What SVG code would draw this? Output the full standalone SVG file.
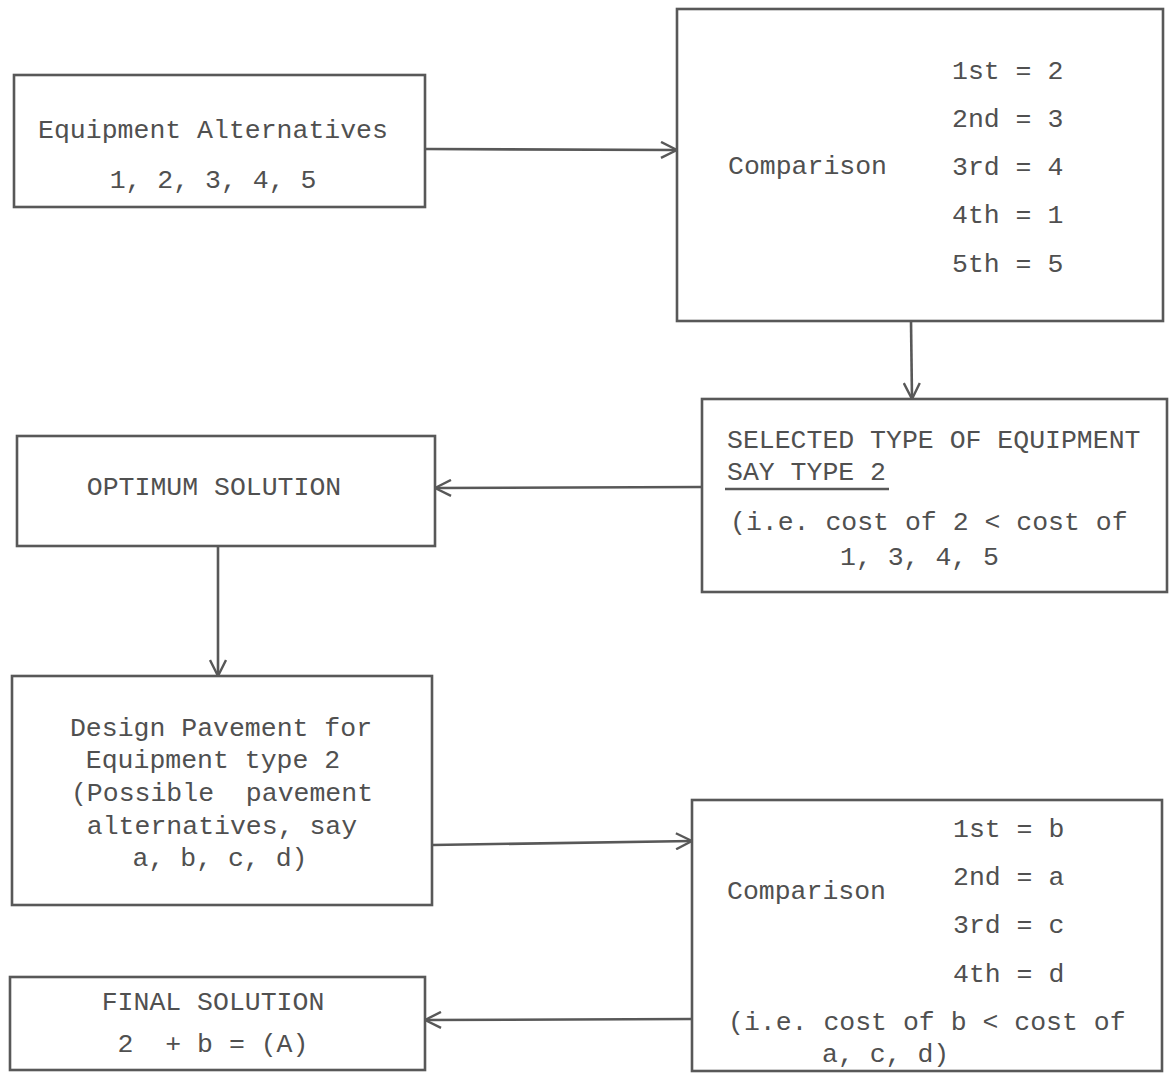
<svg xmlns="http://www.w3.org/2000/svg" width="1169" height="1073" viewBox="0 0 1169 1073">
<defs>
<marker id="arr" viewBox="0 0 18 18" refX="17" refY="9" markerWidth="18" markerHeight="18" markerUnits="userSpaceOnUse" orient="auto">
<path d="M1,1 L17,9 L1,17" fill="none" stroke="#585858" stroke-width="2.4"/>
</marker>
<style>
rect{fill:none;stroke:#585858;stroke-width:2.6}
text{font-family:"Liberation Mono","DejaVu Sans Mono",monospace;font-size:26.5px;fill:#505050;white-space:pre}
.c{text-anchor:middle}
#connectors path{fill:none;stroke:#585858;stroke-width:2.6;marker-end:url(#arr)}
</style>
</defs>
<rect x="0" y="0" width="1169" height="1073" style="fill:#fff;stroke:none"/>
<g id="equipment-alternatives">
<rect x="14" y="75" width="411" height="132"/>
<text class="c" x="213" y="138">Equipment Alternatives</text>
<text class="c" x="213" y="188">1, 2, 3, 4, 5</text>
</g>
<g id="comparison-1">
<rect x="677" y="9" width="486" height="312"/>
<text x="728" y="174">Comparison</text>
<text x="952" y="79">1st = 2</text>
<text x="952" y="127">2nd = 3</text>
<text x="952" y="175">3rd = 4</text>
<text x="952" y="223">4th = 1</text>
<text x="952" y="272">5th = 5</text>
</g>
<g id="selected-type">
<rect x="702" y="399" width="465" height="193"/>
<text x="727" y="448">SELECTED TYPE OF EQUIPMENT</text>
<text x="727" y="480">SAY TYPE 2</text>
<line x1="725" y1="489" x2="889" y2="489" stroke="#585858" stroke-width="2.4"/>
<text x="730" y="530">(i.e. cost of 2 &lt; cost of</text>
<text x="840" y="565">1, 3, 4, 5</text>
</g>
<g id="optimum-solution">
<rect x="17" y="436" width="418" height="110"/>
<text class="c" x="214" y="495">OPTIMUM SOLUTION</text>
</g>
<g id="design-pavement">
<rect x="12" y="676" width="420" height="229"/>
<text class="c" x="221" y="736">Design Pavement for</text>
<text class="c" x="213" y="768">Equipment type 2</text>
<text class="c" x="222" y="801">(Possible  pavement</text>
<text class="c" x="222" y="834">alternatives, say</text>
<text class="c" x="220" y="866">a, b, c, d)</text>
</g>
<g id="comparison-2">
<rect x="692" y="800" width="470" height="271"/>
<text x="727" y="899">Comparison</text>
<text x="953" y="837">1st = b</text>
<text x="953" y="885">2nd = a</text>
<text x="953" y="933">3rd = c</text>
<text x="953" y="982">4th = d</text>
<text x="728" y="1030">(i.e. cost of b &lt; cost of</text>
<text x="822" y="1062">a, c, d)</text>
</g>
<g id="final-solution">
<rect x="10" y="977" width="415" height="93"/>
<text class="c" x="213" y="1010">FINAL SOLUTION</text>
<text class="c" x="213" y="1052">2  + b = (A)</text>
</g>
<g id="connectors">
<path d="M425,149 L677,150"/>
<path d="M911,321 L912,399"/>
<path d="M702,487 L435,488"/>
<path d="M218,546 L218,676"/>
<path d="M432,845 L692,841"/>
<path d="M692,1019 L425,1020"/>
</g>
</svg>
